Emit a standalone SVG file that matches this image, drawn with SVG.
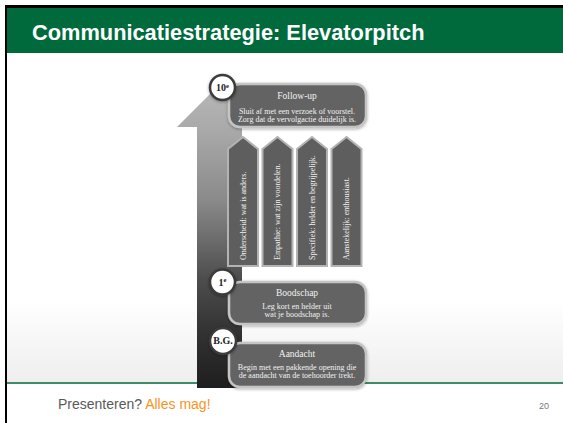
<svg xmlns="http://www.w3.org/2000/svg" width="563" height="423" viewBox="0 0 563 423">
  <defs>
    <linearGradient id="arrowGrad" gradientUnits="userSpaceOnUse" x1="0" y1="85" x2="0" y2="388">
      <stop offset="0" stop-color="#b8b8b8"/>
      <stop offset="0.15" stop-color="#a9a9a9"/>
      <stop offset="0.38" stop-color="#8a8a8a"/>
      <stop offset="0.64" stop-color="#4d4d4d"/>
      <stop offset="0.81" stop-color="#333333"/>
      <stop offset="1" stop-color="#1e1e1e"/>
    </linearGradient>
    <linearGradient id="bgGrad" gradientUnits="userSpaceOnUse" x1="0" y1="300" x2="0" y2="383">
      <stop offset="0" stop-color="#ffffff"/>
      <stop offset="1" stop-color="#eeeeee"/>
    </linearGradient>
    <filter id="shadow" x="-20%" y="-30%" width="140%" height="160%">
      <feDropShadow dx="0" dy="1" stdDeviation="1.5" flood-color="#000000" flood-opacity="0.35"/>
    </filter>
    <style>
      .box { fill: #646464; stroke: #c4c4c4; stroke-width: 2.5; filter: url(#shadow); }
      .col { fill: #5e5e5e; stroke: #b3b3b3; stroke-width: 2; }
      .badge { fill: #ffffff; stroke: #3a3a3a; stroke-width: 2.5; filter: url(#shadow); }
      .ttl { font-family: "Liberation Serif", "DejaVu Serif", serif; font-size: 9.5px; fill: #f2f2f2; text-anchor: middle; }
      .body { font-family: "Liberation Serif", "DejaVu Serif", serif; font-size: 8px; fill: #f2f2f2; text-anchor: middle; }
      .coltxt { font-family: "Liberation Serif", "DejaVu Serif", serif; font-size: 8px; fill: #f2f2f2; }
      .btxt { font-family: "Liberation Serif", "DejaVu Serif", serif; font-weight: bold; font-size: 10px; fill: #222222; text-anchor: middle; }
    </style>
  </defs>

  <!-- slide background -->
  <rect x="0" y="0" width="563" height="423" fill="#ffffff"/>
  <rect x="7" y="53" width="556" height="330" fill="url(#bgGrad)"/>
  <rect x="5" y="5" width="558" height="3" fill="#000000"/>
  <rect x="5" y="5" width="2" height="418" fill="#000000"/>
  <rect x="7" y="8" width="556" height="45" fill="#006A3D"/>
  <text x="32" y="40" font-family="Liberation Sans, Arial, sans-serif" font-weight="bold" font-size="21.8" fill="#ffffff">Communicatiestrategie: Elevatorpitch</text>
  <rect x="7" y="382" width="556" height="2" fill="#3f8a68"/>

  <!-- big arrow -->
  <g id="arrow">
    <path d="M197,388 L197,127 L177,127 L219.5,84.5 L262,127 L242,127 L242,388 Z" fill="url(#arrowGrad)"/>
  </g>

  <!-- columns -->
  <g id="col1">
    <path class="col" d="M228,149 L243,137 L258,149 L258,266 L228,266 Z"/>
    <text class="coltxt" transform="translate(245.5,260) rotate(-90)">Onderscheid: wat is anders.</text>
  </g>
  <g id="col2">
    <path class="col" d="M262.5,149 L277.5,137 L292.5,149 L292.5,266 L262.5,266 Z"/>
    <text class="coltxt" transform="translate(280,260) rotate(-90)">Empathie: wat zijn voordelen.</text>
  </g>
  <g id="col3">
    <path class="col" d="M297,149 L312,137 L327,149 L327,266 L297,266 Z"/>
    <text class="coltxt" transform="translate(314.5,260) rotate(-90)">Specifiek: helder en begrijpelijk.</text>
  </g>
  <g id="col4">
    <path class="col" d="M331.5,149 L346.5,137 L361.5,149 L361.5,266 L331.5,266 Z"/>
    <text class="coltxt" transform="translate(349,260) rotate(-90)">Aanstekelijk: enthousiast.</text>
  </g>

  <!-- boxes -->
  <g id="followup">
    <rect class="box" x="229" y="84" width="137" height="43" rx="11"/>
    <text class="ttl" x="297" y="99">Follow-up</text>
    <text class="body" x="297" y="114">Sluit af met een verzoek of voorstel.</text>
    <text class="body" x="297" y="121.5">Zorg dat de vervolgactie duidelijk is.</text>
  </g>
  <g id="boodschap">
    <rect class="box" x="229" y="282" width="137" height="42" rx="11"/>
    <text class="ttl" x="297" y="296">Boodschap</text>
    <text class="body" x="297" y="309">Leg kort en helder uit</text>
    <text class="body" x="297" y="316.5">wat je boodschap is.</text>
  </g>
  <g id="aandacht">
    <rect class="box" x="229" y="343" width="137" height="44" rx="11"/>
    <text class="ttl" x="297" y="357">Aandacht</text>
    <text class="body" x="297" y="370">Begin met een pakkende opening die</text>
    <text class="body" x="297" y="377.5">de aandacht van de toehoorder trekt.</text>
  </g>

  <!-- badges -->
  <g id="badge10">
    <circle class="badge" cx="222.5" cy="87.5" r="12.5"/>
    <text class="btxt" x="222.5" y="91">10<tspan font-size="6.5" dy="-3.5">e</tspan></text>
  </g>
  <g id="badge1">
    <circle class="badge" cx="222.5" cy="282" r="12.5"/>
    <text class="btxt" x="222.5" y="285.5">1<tspan font-size="6.5" dy="-3.5">e</tspan></text>
  </g>
  <g id="badgeBG">
    <circle class="badge" cx="223" cy="341" r="13"/>
    <text class="btxt" x="223" y="344" font-size="8.5">B.G.</text>
  </g>

  <!-- footer -->
  <text x="58" y="409" font-family="Liberation Sans, Arial, sans-serif" font-size="14" fill="#595959">Presenteren? <tspan fill="#F7941D">Alles mag!</tspan></text>
  <text x="549" y="409" font-family="Liberation Sans, Arial, sans-serif" font-size="9" fill="#777777" text-anchor="end">20</text>
</svg>
